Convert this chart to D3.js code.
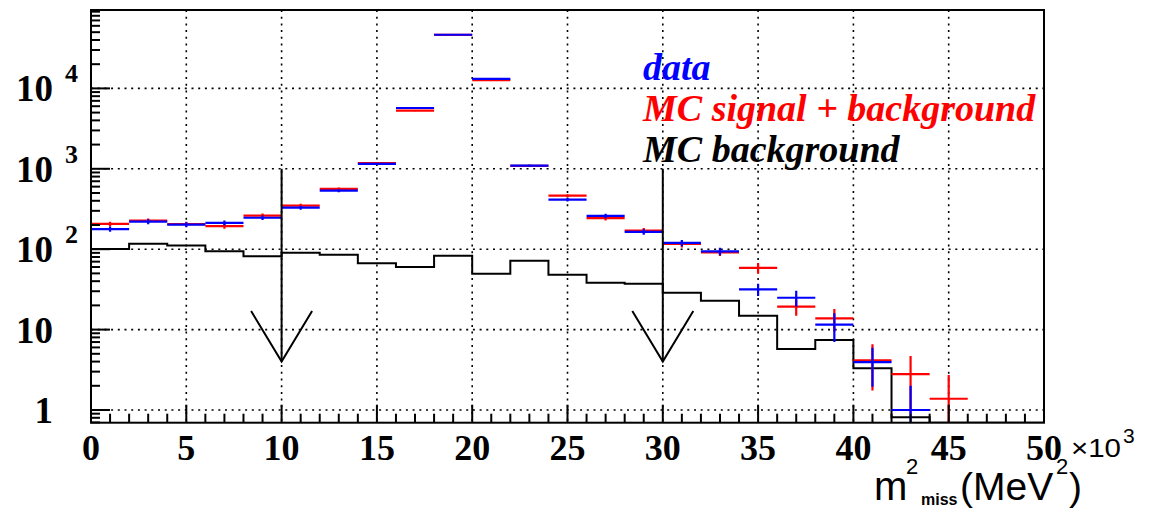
<!DOCTYPE html>
<html>
<head>
<meta charset="utf-8">
<script src="https://cdn.jsdelivr.net/npm/d3@7"></script>
<style>
  html, body { margin: 0; padding: 0; background: #fff; }
  svg { display: block; }
</style>
</head>
<body>
<svg id="chart" width="1151" height="508"></svg>
<script>
'use strict';

// bin low edges (MeV^2), 2000 wide
const binLow = [0, 2000, 4000, 6000, 8000, 10000, 12000, 14000, 16000, 18000,
  20000, 22000, 24000, 26000, 28000, 30000, 32000, 34000, 36000, 38000,
  40000, 42000, 44000, 46000, 48000];
const binWidth = 2000;

// data (blue)
const dataVals = [178, 220, 202, 212, 246, 328, 534, 1148, 5700, 46500,
  13100, 1093, 413, 259, 164, 119.5, 94, 31.7, 24.9, 11.5,
  3.95, 1, 0, 0, 0];
const dataErrs = [13, 15, 14, 15, 16, 18, 23, 34, 75, 216,
  114, 33, 20, 16, 13, 11, 10, 5.6, 5.5, 4.5,
  2.0, 1, 0, 0, 0];

// MC signal + background (red)
const mcVals = [206, 226, 205, 194, 261, 348, 561, 1180, 5280, 46300,
  12700, 1090, 463, 244, 170, 116, 91.5, 58.4, 19.3, 13.8,
  4.15, 2.8, 1.38, 0, 0];
const mcErrs = [14, 15, 14, 14, 16, 19, 24, 34, 73, 215,
  113, 33, 21, 16, 13, 11, 9.5, 8.8, 4.4, 4.3,
  2.4, 1.9, 1.35, 0, 0];

// MC background (black histogram)
const bkgVals = [100.6, 117, 111, 94, 81.6, 90.6, 85.5, 66.7, 60, 83,
  49.6, 72, 48.2, 38.3, 37.2, 28.8, 22.9, 14.9, 5.74, 7.43,
  3.3, 0.81, 0, 0, 0];

// cut arrows
const cutPositions = [10000, 30000];
const arrowTop = 1000;
const arrowTip = 4;
const arrowArmY = 17;
const arrowArmDx = 1600;

const xTicksMajor = [0, 5000, 10000, 15000, 20000, 25000, 30000, 35000, 40000, 45000, 50000];
const xTickLabels = ['0', '5', '10', '15', '20', '25', '30', '35', '40', '45', '50'];
const yDecades = [1, 10, 100, 1000, 10000];
const yExponents = ['', '', '2', '3', '4'];

const legendItems = [
  { text: 'data', color: '#0000ff' },
  { text: 'MC signal + background', color: '#ff0000' },
  { text: 'MC background', color: '#000000' },
];

const svg = d3.select('#chart');
const pL = 91, pR = 1044, pT = 10, pB = 422.7;

const x = d3.scaleLinear().domain([0, 50000]).range([pL, pR]);
const y = d3.scaleLog().domain([0.695, 94400]).range([pB, pT]);
const yMin = y.domain()[0];

svg.append('defs').append('clipPath').attr('id', 'plotclip')
  .append('rect')
  .attr('x', pL).attr('y', pT)
  .attr('width', pR - pL).attr('height', pB - pT);

// grid
const grid = svg.append('g')
  .attr('stroke', '#000')
  .attr('stroke-width', 1.6)
  .attr('stroke-dasharray', '2 4.7');
grid.selectAll('line.gx')
  .data(xTicksMajor.slice(1, -1))
  .enter().append('line')
  .attr('x1', d => x(d)).attr('x2', d => x(d))
  .attr('y1', pT).attr('y2', pB);
grid.selectAll('line.gy')
  .data(yDecades)
  .enter().append('line')
  .attr('x1', pL).attr('x2', pR)
  .attr('y1', d => y(d)).attr('y2', d => y(d));

const plot = svg.append('g').attr('clip-path', 'url(#plotclip)');

// background histogram outline
const pts = [];
bkgVals.forEach((v, i) => {
  const yy = y(Math.max(v, yMin));
  pts.push([x(binLow[i]), yy]);
  pts.push([x(binLow[i] + binWidth), yy]);
});
plot.append('path')
  .attr('d', d3.line()(pts))
  .attr('fill', 'none')
  .attr('stroke', '#000')
  .attr('stroke-width', 2);

// points with error bars
const drawSeries = (vals, errs, color) => {
  const g = plot.append('g').attr('stroke', color).attr('stroke-width', 2.2);
  const rows = vals.map((v, i) => ({ v, e: errs[i], lo: binLow[i] }))
    .filter(d => d.v > 0);
  g.selectAll('line.h')
    .data(rows)
    .enter().append('line')
    .attr('x1', d => x(d.lo)).attr('x2', d => x(d.lo + binWidth))
    .attr('y1', d => y(d.v)).attr('y2', d => y(d.v));
  g.selectAll('line.v')
    .data(rows)
    .enter().append('line')
    .attr('x1', d => x(d.lo + binWidth / 2)).attr('x2', d => x(d.lo + binWidth / 2))
    .attr('y1', d => y(d.v + d.e))
    .attr('y2', d => (d.v - d.e > yMin ? y(d.v - d.e) : pB + 2));
};
drawSeries(mcVals, mcErrs, '#ff0000');
drawSeries(dataVals, dataErrs, '#0000ff');

// arrows
const arrows = svg.append('g').attr('stroke', '#000').attr('stroke-width', 2).attr('fill', 'none');
cutPositions.forEach(c => {
  arrows.append('line')
    .attr('x1', x(c)).attr('x2', x(c))
    .attr('y1', y(arrowTop)).attr('y2', y(arrowTip));
  arrows.append('path')
    .attr('d', d3.line()([
      [x(c - arrowArmDx), y(arrowArmY)],
      [x(c), y(arrowTip)],
      [x(c + arrowArmDx), y(arrowArmY)],
    ]));
});

// frame
svg.append('rect')
  .attr('x', pL).attr('y', pT)
  .attr('width', pR - pL).attr('height', pB - pT)
  .attr('fill', 'none').attr('stroke', '#000').attr('stroke-width', 2);

// x ticks (inside, upward)
const xt = svg.append('g').attr('stroke', '#000').attr('stroke-width', 2);
d3.range(1000, 50000, 1000).forEach(v => {
  const major = v % 5000 === 0;
  xt.append('line')
    .attr('x1', x(v)).attr('x2', x(v))
    .attr('y1', pB).attr('y2', pB - (major ? 18 : 9));
});

// y ticks (inside, rightward)
const yt = svg.append('g').attr('stroke', '#000').attr('stroke-width', 2);
const yTickVals = [];
[0.1, 1, 10, 100, 1000, 10000].forEach(dec => {
  for (let k = 1; k <= 9; k++) {
    const v = dec * k;
    if (v >= yMin && v <= y.domain()[1]) yTickVals.push(v);
  }
});
yTickVals.forEach(v => {
  const major = yDecades.includes(v);
  yt.append('line')
    .attr('x1', pL).attr('x2', pL + (major ? 19 : 9))
    .attr('y1', y(v)).attr('y2', y(v));
});

// y labels
const serif = '"Liberation Serif", "Times New Roman", serif';
const yl = svg.append('g')
  .attr('font-family', serif).attr('font-weight', 'bold').attr('fill', '#000');
yDecades.forEach((v, i) => {
  yl.append('text')
    .attr('x', pL - 38).attr('y', y(v) + 13)
    .attr('text-anchor', 'end')
    .attr('font-size', 37)
    .text(i === 0 ? '1' : '10');
  if (yExponents[i]) {
    yl.append('text')
      .attr('x', pL - 26).attr('y', y(v) - 6)
      .attr('font-size', 26)
      .text(yExponents[i]);
  }
});

// x labels
svg.append('g')
  .attr('font-family', serif).attr('font-weight', 'bold').attr('font-size', 36)
  .attr('text-anchor', 'middle')
  .selectAll('text')
  .data(xTicksMajor)
  .enter().append('text')
  .attr('x', d => x(d)).attr('y', 460)
  .text((d, i) => xTickLabels[i]);

// x10^3
const sans = '"Liberation Sans", Arial, Helvetica, sans-serif';
svg.append('text')
  .attr('x', pR + 27).attr('y', 457)
  .attr('font-family', sans).attr('font-size', 26)
  .attr('textLength', 50).attr('lengthAdjust', 'spacingAndGlyphs')
  .text('\u00d710');
svg.append('text')
  .attr('x', pR + 79).attr('y', 443)
  .attr('font-family', sans).attr('font-size', 21)
  .text('3');

// x title
const title = svg.append('g').attr('font-family', sans).attr('fill', '#000');
title.append('text').attr('x', 874).attr('y', 500).attr('font-size', 40).text('m');
title.append('text').attr('x', 906).attr('y', 474).attr('font-size', 22).text('2');
title.append('text').attr('x', 921).attr('y', 505).attr('font-size', 16).attr('font-weight', 'bold').text('miss');
title.append('text').attr('x', 960).attr('y', 500).attr('font-size', 39).text('(MeV');
title.append('text').attr('x', 1056).attr('y', 474).attr('font-size', 22).text('2');
title.append('text').attr('x', 1069).attr('y', 500).attr('font-size', 39).text(')');

// legend
svg.append('g')
  .attr('font-family', serif).attr('font-weight', 'bold').attr('font-style', 'italic')
  .attr('font-size', 38)
  .selectAll('text')
  .data(legendItems)
  .enter().append('text')
  .attr('x', 643)
  .attr('y', (d, i) => 80 + i * 41)
  .attr('fill', d => d.color)
  .text(d => d.text);
</script>
</body>
</html>
